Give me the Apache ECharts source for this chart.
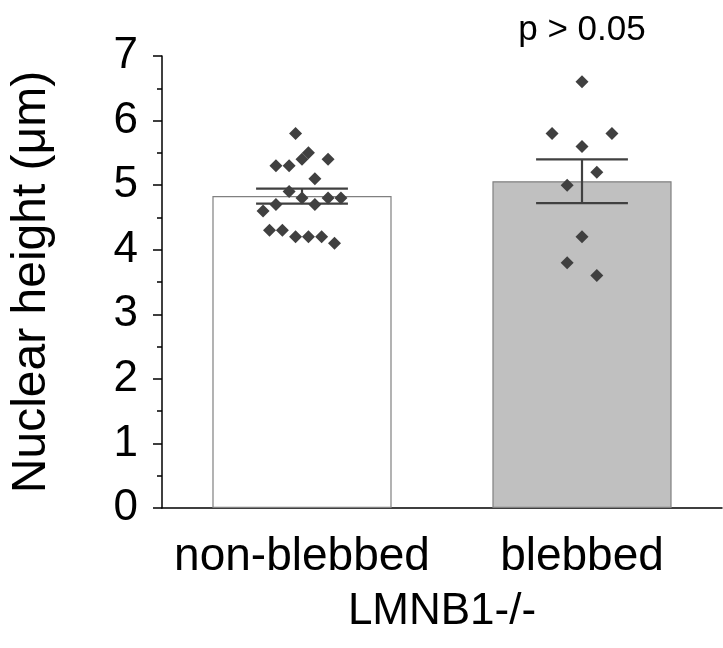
<!DOCTYPE html>
<html>
<head>
<meta charset="utf-8">
<script src="https://cdn.jsdelivr.net/npm/echarts@6/dist/echarts.min.js"></script>
<style>html,body{margin:0;padding:0;background:#fff}#c{width:723px;height:648px}</style>
</head>
<body>
<div id="c"></div>
<script>
const categories = ['non-blebbed', 'blebbed'];
const means = [4.83, 5.06];
const sems = [0.115, 0.34];
const barColors = ['#ffffff', '#c0c0c0'];
const nonBlebbedValues = [5.8, 5.3, 5.3, 5.4, 5.5, 5.4, 5.1, 4.9, 4.8, 4.7, 4.7, 4.8, 4.8, 4.6, 4.3, 4.3, 4.2, 4.2, 4.2, 4.1];
const nonBlebbedJitter = [-0.023, -0.093, -0.046, 0, 0.023, 0.093, 0.046, -0.046, 0, -0.093, 0.046, 0.093, 0.139, -0.139, -0.116, -0.070, -0.023, 0.023, 0.070, 0.116];
const blebbedValues = [6.6, 5.8, 5.8, 5.6, 5.2, 5.0, 4.2, 3.8, 3.6];
const blebbedJitter = [0, -0.107, 0.107, 0, 0.053, -0.053, 0, -0.053, 0.053];
const yTicks = [0, 1, 2, 3, 4, 5, 6, 7];
const yAxisName = 'Nuclear height (\u03bcm)';
const xAxisName = 'LMNB1-/-';
const pText = 'p > 0.05';

const FONT = '"Liberation Sans", Arial, sans-serif';
const chart = echarts.init(document.getElementById('c'), null, {renderer: 'canvas'});

const scatterData = [];
nonBlebbedValues.forEach((v, i) => scatterData.push([0.5 + nonBlebbedJitter[i], v]));
blebbedValues.forEach((v, i) => scatterData.push([1.5 + blebbedJitter[i], v]));

const option = {
  animation: false,
  backgroundColor: '#fff',
  grid: {left: 161, right: 1, top: 56, bottom: 140, containLabel: false},
  xAxis: [{
    type: 'category',
    data: categories,
    boundaryGap: true,
    axisLine: {lineStyle: {color: '#000', width: 1.5}},
    axisTick: {alignWithLabel: true, length: 8, lineStyle: {color: '#000', width: 1.5}},
    axisLabel: {color: '#000', fontSize: 46, fontFamily: FONT, margin: 26, interval: 0},
    name: xAxisName,
    nameLocation: 'middle',
    nameGap: 82,
    nameTextStyle: {color: '#000', fontSize: 44, fontFamily: FONT}
  }, {
    type: 'value', min: 0, max: 2, show: false
  }],
  yAxis: {
    type: 'value',
    min: yTicks[0], max: yTicks[yTicks.length - 1], interval: 1,
    axisLine: {show: true, lineStyle: {color: '#000', width: 1.5}},
    axisTick: {show: true, length: 9, lineStyle: {color: '#000', width: 1.5}},
    minorTick: {show: true, splitNumber: 2, length: 5, lineStyle: {color: '#000', width: 1.5}},
    splitLine: {show: false},
    axisLabel: {color: '#000', fontSize: 44, fontFamily: FONT, margin: 24},
    name: yAxisName,
    nameLocation: 'middle',
    nameGap: 106,
    nameTextStyle: {color: '#000', fontSize: 48, fontFamily: FONT}
  },
  series: [{
    type: 'bar',
    xAxisIndex: 0,
    barWidth: '64%',
    data: means.map((m, i) => ({value: m, itemStyle: {color: barColors[i]}})),
    itemStyle: {borderColor: '#808080', borderWidth: 1.2},
    z: 2
  }, {
    type: 'custom',
    xAxisIndex: 1,
    data: means.map((m, i) => [i + 0.5, m, sems[i]]),
    renderItem: function (params, api) {
      const x = api.value(0), m = api.value(1), s = api.value(2);
      const top = api.coord([x, m + s]);
      const bot = api.coord([x, m - s]);
      const half = api.size([0.164, 0])[0];
      const st = {stroke: '#404040', lineWidth: 2.2};
      return {type: 'group', children: [
        {type: 'line', shape: {x1: top[0], y1: top[1], x2: bot[0], y2: bot[1]}, style: st},
        {type: 'line', shape: {x1: top[0] - half, y1: top[1], x2: top[0] + half, y2: top[1]}, style: st},
        {type: 'line', shape: {x1: bot[0] - half, y1: bot[1], x2: bot[0] + half, y2: bot[1]}, style: st}
      ]};
    },
    z: 3
  }, {
    type: 'scatter',
    xAxisIndex: 1,
    data: scatterData,
    symbol: 'diamond',
    symbolSize: 13,
    itemStyle: {color: '#404040', opacity: 1},
    z: 4
  }]
};
chart.setOption(option);

const pPos = chart.convertToPixel({xAxisIndex: 0}, categories[1]);
chart.setOption({
  graphic: [{
    type: 'text',
    x: pPos, y: 30,
    style: {text: pText, fill: '#000', fontSize: 35, fontFamily: FONT, align: 'center', verticalAlign: 'middle'}
  }]
});
</script>
</body>
</html>
